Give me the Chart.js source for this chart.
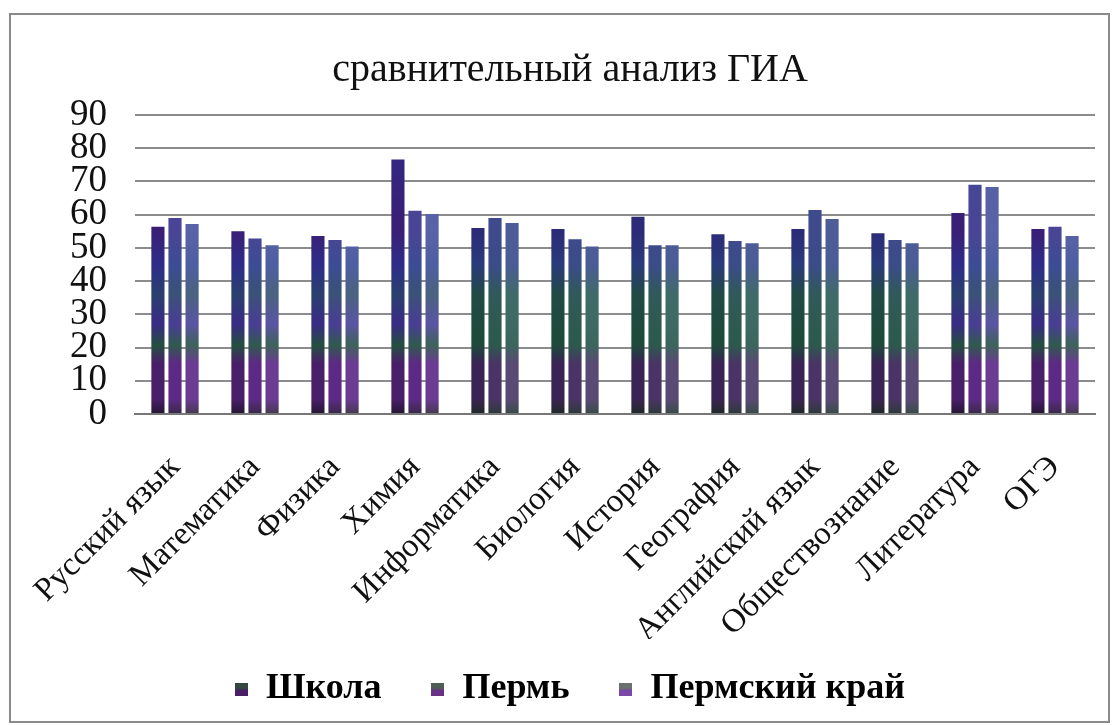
<!DOCTYPE html>
<html>
<head>
<meta charset="utf-8">
<script src="https://cdn.jsdelivr.net/npm/chart.js@4/dist/chart.umd.min.js"></script>
<style>
  html, body { margin: 0; padding: 0; background: #fff; }
  #wrap { width: 1117px; height: 725px; }
</style>
</head>
<body>
<div id="wrap"><canvas id="giaChart" width="1117" height="725"></canvas></div>
<script>
// Subjects and average scores
const subjects = ['Русский язык', 'Математика', 'Физика', 'Химия', 'Информатика', 'Биология',
    'История', 'География', 'Английский язык', 'Обществознание', 'Литература', 'ОГЭ'];
const school = [56.4, 55.0, 53.6, 76.6, 56.0, 55.7, 59.4, 54.1, 55.7, 54.4, 60.5, 55.7];
const perm = [59.0, 52.8, 52.4, 61.2, 59.0, 52.6, 50.8, 52.1, 61.4, 52.4, 69.0, 56.4];
const permKrai = [57.2, 50.8, 50.4, 60.2, 57.5, 50.4, 50.8, 51.4, 58.7, 51.4, 68.3, 53.6];
const yTicks = [0, 10, 20, 30, 40, 50, 60, 70, 80, 90];

const serif = '"Liberation Serif", "DejaVu Serif", serif';

// banded "scanned" fills: purple-heavy on the left subjects, green-heavy in the middle
const purpleBands = [
    ['#24162e', '#4a1f6a', '#23503e', '#3a2a86', '#2a3f6e', '#2e2c8a', '#3a1e74'],
    ['#3a2848', '#5c2a86', '#2f5a4c', '#4a3c96', '#3a5276', '#3c4c94', '#4a4496'],
    ['#46384f', '#6a3c94', '#3e6258', '#5a54a4', '#4a6280', '#4e5ea2', '#5a62a8']
];
const greenBands = [
    ['#1e2a26', '#3a2456', '#1d4a3a', '#1f4a3e', '#214a44', '#2a3a7a', '#2c2a78'],
    ['#2c3a38', '#4a3466', '#2b5a4c', '#2e5a50', '#2f5a58', '#3a4c8a', '#3e4a8c'],
    ['#3a4a48', '#584a74', '#3c665c', '#3e6a62', '#3f6a68', '#4a5c96', '#4e5c9a']
];

function bandFill(ctx, set) {
    const chart = ctx.chart;
    const area = chart.chartArea;
    if (!area) return purpleBands[set][2];
    const i = ctx.dataIndex;
    const cols = (i >= 4 && i <= 9) ? greenBands[set] : purpleBands[set];
    const g = chart.ctx.createLinearGradient(0, area.bottom, 0, area.top);
    g.addColorStop(0, cols[0]);
    g.addColorStop(0.05, cols[1]);
    g.addColorStop(0.17, cols[1]);
    g.addColorStop(0.23, cols[2]);
    g.addColorStop(0.3, cols[3]);
    g.addColorStop(0.4, cols[4]);
    g.addColorStop(0.5, cols[5]);
    g.addColorStop(0.62, cols[6]);
    g.addColorStop(1, cols[5]);
    return g;
}

// little two-tone legend swatches (grey-green on top, purple below)
const swatchTop = ['#34483f', '#4e5e56', '#6a706c'];
const swatchBottom = ['#4a1e66', '#6a3088', '#7a48a8'];
function makeSwatch(i) {
    const c = document.createElement('canvas');
    c.width = 13; c.height = 13;
    const x = c.getContext('2d');
    const g = x.createLinearGradient(0, 0, 0, 13);
    g.addColorStop(0, swatchTop[i]);
    g.addColorStop(0.45, swatchTop[i]);
    g.addColorStop(0.6, swatchBottom[i]);
    g.addColorStop(1, swatchBottom[i]);
    x.fillStyle = g;
    x.fillRect(0, 0, 13, 13);
    return c;
}
const swatches = [0, 1, 2].map(makeSwatch);

const frame = {
    id: 'frame',
    beforeDraw(chart) {
        const c = chart.ctx;
        c.save();
        c.fillStyle = '#fff';
        c.fillRect(0, 0, chart.width, chart.height);
        c.strokeStyle = '#8a8a8a';
        c.lineWidth = 2;
        c.strokeRect(10, 14, 1099, 708);
        c.restore();
    },
    // title and legend are centred on the whole frame, not on the plot box
    afterLayout(chart) {
        [chart.titleBlock, chart.legend].forEach(b => {
            if (b) { b.left += 15; b.right += 15; }
        });
    }
};

const ctx = document.getElementById('giaChart').getContext('2d');
const giaChart = new Chart(ctx, {
    type: 'bar',
    data: {
        labels: subjects,
        datasets: [
            { label: 'Школа', data: school, backgroundColor: c => bandFill(c, 0) },
            { label: 'Пермь', data: perm, backgroundColor: c => bandFill(c, 1) },
            { label: 'Пермский край', data: permKrai, backgroundColor: c => bandFill(c, 2) }
        ]
    },
    options: {
        responsive: false,
        animation: false,
        categoryPercentage: 0.64,
        barPercentage: 0.77,
        layout: { padding: { top: 46, left: 15, right: 22, bottom: 8 } },
        plugins: {
            title: {
                display: true,
                text: 'сравнительный анализ ГИА',
                color: '#111',
                font: { family: serif, size: 40, weight: 'normal' },
                padding: { top: 0, bottom: 21 }
            },
            legend: {
                position: 'bottom',
                labels: {
                    color: '#111',
                    font: { family: serif, size: 36, weight: 'bold' },
                    usePointStyle: true,
                    boxWidth: 13,
                    boxHeight: 13,
                    padding: 32,
                    // trailing spaces widen the gap between legend items
                    generateLabels: chart => chart.data.datasets.map((ds, i) => ({
                        text: i < 2 ? ds.label + '  ' : ds.label,
                        pointStyle: swatches[i],
                        fillStyle: swatchTop[i],
                        strokeStyle: swatchTop[i],
                        lineWidth: 0,
                        datasetIndex: i
                    }))
                }
            },
            tooltip: { enabled: false }
        },
        scales: {
            x: {
                grid: { display: false },
                border: { color: '#777', width: 2 },
                afterFit: axis => { axis.height = 225; },
                ticks: {
                    color: '#111',
                    minRotation: 45,
                    maxRotation: 45,
                    padding: 26,
                    font: { family: serif, size: 33 }
                }
            },
            y: {
                min: 0,
                max: 90,
                afterBuildTicks: axis => { axis.ticks = yTicks.map(v => ({ value: v })); },
                afterFit: axis => { axis.width = 120; },
                grid: { color: '#8c8c8c', lineWidth: 2, drawTicks: false },
                border: { display: false },
                ticks: {
                    color: '#111',
                    autoSkip: false,
                    padding: 28,
                    font: { family: serif, size: 37 }
                }
            }
        }
    },
    plugins: [frame]
});
</script>
</body>
</html>
